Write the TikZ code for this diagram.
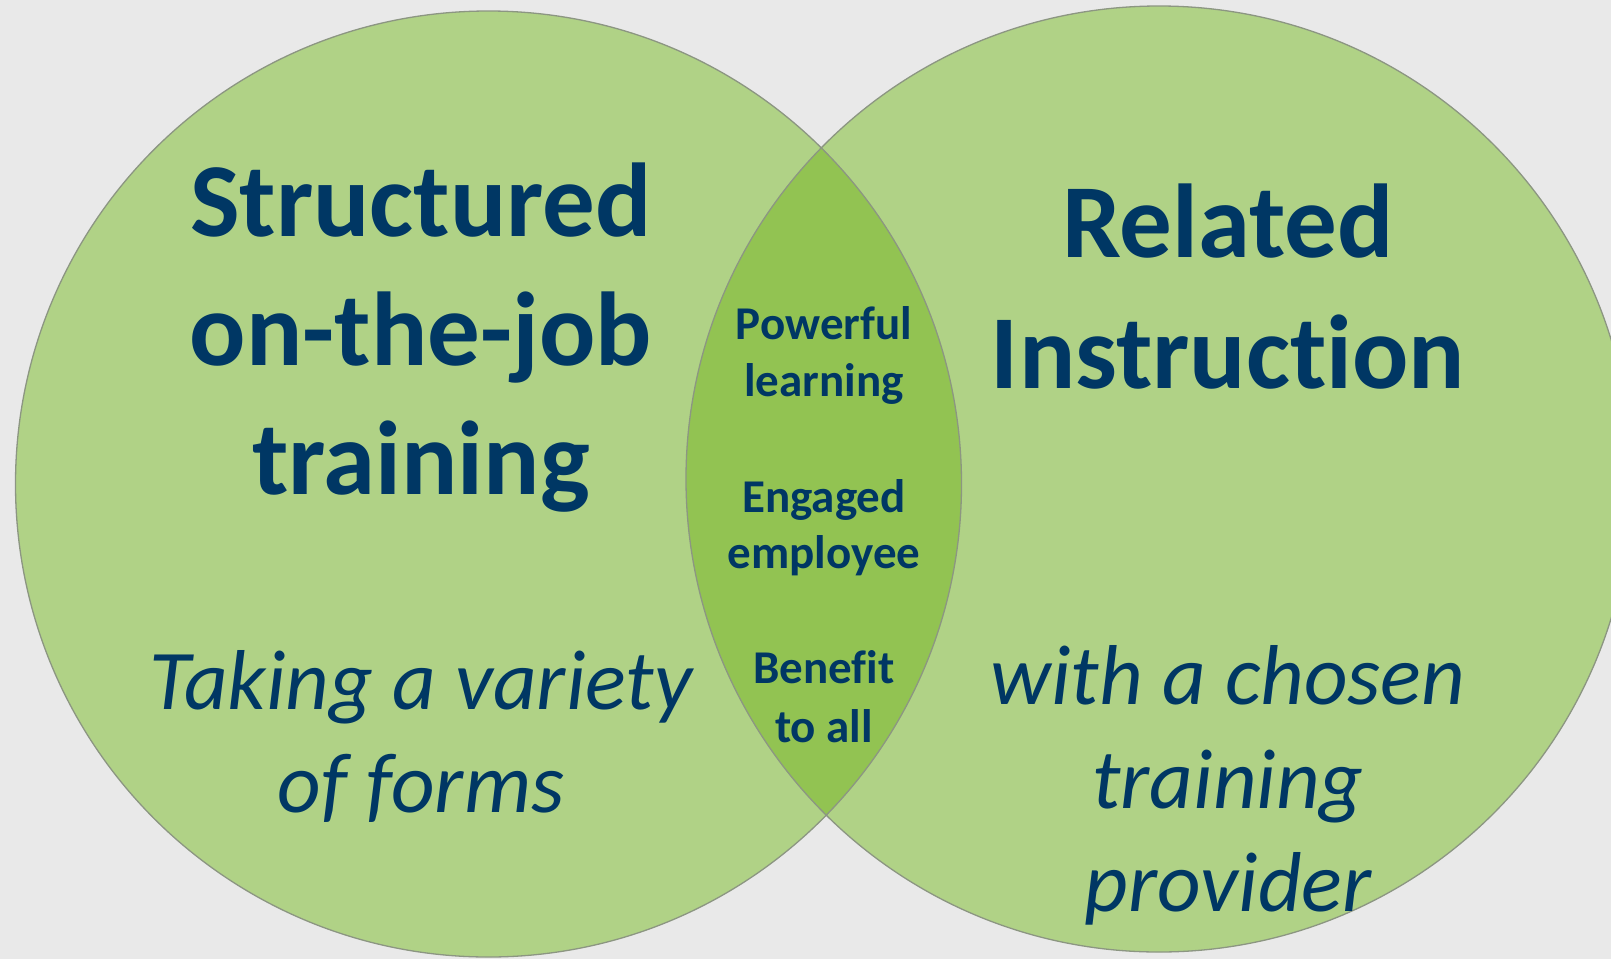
\documentclass[tikz,border=0pt]{standalone}
\usepackage{fontspec}
\newfontfamily\calfont[RawFeature={-liga}]{Carlito}
\usetikzlibrary{%
  positioning,%
  calc%
}
\definecolor{bgcol}{RGB}{233,233,233}
\definecolor{circlecol}{RGB}{176,210,134}
\definecolor{lenscol}{RGB}{146,195,82}
\definecolor{edgecol}{RGB}{140,150,130}
\definecolor{txtcol}{RGB}{0,55,100}

\begin{document}
\begin{tikzpicture}[
  x=1pt,y=-1pt,
  font=\calfont,
  text=txtcol,
  bigtxt/.style={inner sep=0pt,anchor=base,font=\calfont\bfseries\fontsize{105}{128}\selectfont},
  midtxt/.style={inner sep=0pt,anchor=base,font=\calfont\itshape\fontsize{85}{103}\selectfont},
  smalltxt/.style={inner sep=0pt,anchor=base,font=\calfont\bfseries\fontsize{47}{57}\selectfont},
]

\useasboundingbox (0,0) rectangle (1611,959);
\clip (0,0) rectangle (1611,959);
\fill[bgcol] (0,0) rectangle (1611,959);

\coordinate (cl) at (488.5,484);
\coordinate (cr) at (1159,479);

\fill[circlecol] (cl) circle (473);
\fill[circlecol] (cr) circle (473);
\begin{scope}
  \clip (cl) circle (473);
  \fill[lenscol] (cr) circle (473);
\end{scope}
\draw[edgecol,line width=1.3pt] (cl) circle (473);
\draw[edgecol,line width=1.3pt] (cr) circle (473);

% left circle
\node[bigtxt] (ojt1) at (421,236) {Structured};
\node[bigtxt] (ojt2) at (421,365) {on-the-job};
\node[bigtxt] (ojt3) at (421,494) {training};
\node[midtxt] (frm1) at (421,709) {Taking a variety};
\node[midtxt] (frm2) at (421,812) {of forms};

% right circle
\node[bigtxt] (ri1) at (1228,257) {Related};
\node[bigtxt] (ri2) at (1228,388) {Instruction};
\node[midtxt] (prv1) at (1228,704) {with a chosen};
\node[midtxt] (prv2) at (1228,808) {training};
\node[midtxt] (prv3) at (1228,911) {provider};

% overlap
\node[smalltxt] (ov1) at (824,339) {Powerful};
\node[smalltxt] (ov2) at (824,396) {learning};
\node[smalltxt] (ov3) at (824,512) {Engaged};
\node[smalltxt] (ov4) at (824,568) {employee};
\node[smalltxt] (ov5) at (824,683) {Benefit};
\node[smalltxt] (ov6) at (824,742) {to all};
\end{tikzpicture}
\end{document}
